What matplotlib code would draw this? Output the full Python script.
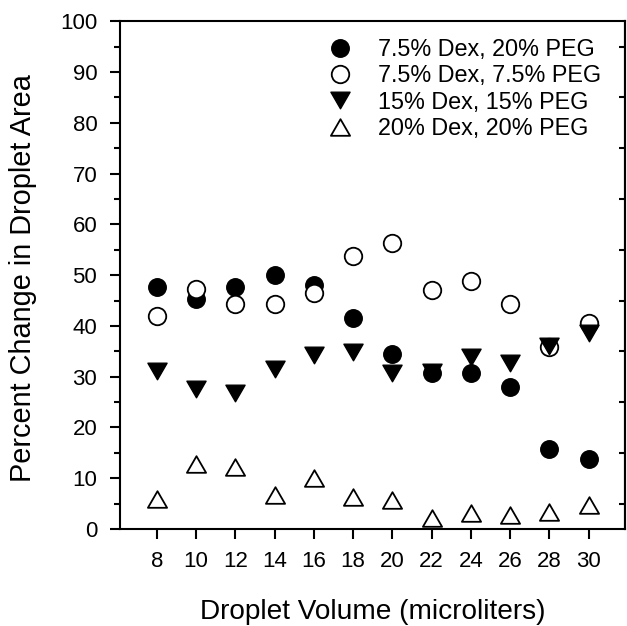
import matplotlib
matplotlib.use("Agg")
import matplotlib.pyplot as plt
import numpy as np
from matplotlib.path import Path

plt.rcParams['font.family'] = ['Liberation Sans', 'DejaVu Sans']

volumes = [8, 10, 12, 14, 16, 18, 20, 22, 24, 26, 28, 30]
dex75_peg20 = [47.7, 45.4, 47.7, 50.0, 48.1, 41.5, 34.4, 30.7, 30.7, 27.9, 15.7, 13.7]
dex75_peg75 = [42.0, 47.2, 44.3, 44.3, 46.4, 53.8, 56.3, 47.1, 48.8, 44.3, 35.8, 40.5]
dex15_peg15 = [31.2, 27.6, 26.8, 31.5, 34.2, 34.9, 30.8, 31.0, 33.8, 32.6, 36.0, 38.7]
dex20_peg20 = [6.0, 12.9, 12.2, 6.6, 10.0, 6.3, 5.7, 2.1, 3.2, 2.8, 3.4, 4.8]

labels = ["7.5% Dex, 20% PEG", "7.5% Dex, 7.5% PEG", "15% Dex, 15% PEG", "20% Dex, 20% PEG"]
yticks = [0, 10, 20, 30, 40, 50, 60, 70, 80, 90, 100]

tri_up = Path([(-1, -0.866), (1, -0.866), (0, 0.866), (-1, -0.866)],
              [Path.MOVETO, Path.LINETO, Path.LINETO, Path.CLOSEPOLY])
tri_down = Path([(-1, 0.866), (1, 0.866), (0, -0.866), (-1, 0.866)],
                [Path.MOVETO, Path.LINETO, Path.LINETO, Path.CLOSEPOLY])

fig = plt.figure(figsize=(6.27, 6.26), dpi=100)
ax = fig.add_axes([119.5/627, 1 - 529/626, (625 - 119.5)/627, (529 - 21.3)/626])

ax.plot(volumes, dex75_peg20, linestyle='none', marker='o', ms=12.6,
        mfc='black', mec='black', mew=1.0, label=labels[0], zorder=3)
ax.plot(volumes, dex75_peg75, linestyle='none', marker='o', ms=12.6,
        mfc='white', mec='black', mew=1.3, label=labels[1], zorder=4)
ax.plot(volumes, dex15_peg15, linestyle='none', marker=tri_down, ms=13.8,
        mfc='black', mec='black', mew=1.0, label=labels[2], zorder=5)
ax.plot(volumes, dex20_peg20, linestyle='none', marker=tri_up, ms=13.8,
        mfc='white', mec='black', mew=1.3, label=labels[3], zorder=6)

ax.set_xlim(6.1, 31.85)
ax.set_ylim(0, 100)
ax.set_xticks(volumes)
ax.set_xticklabels([str(v) for v in volumes])
ax.set_yticks(yticks)
ax.set_yticks(np.arange(5, 100, 10), minor=True)

for sp in ax.spines.values():
    sp.set_linewidth(1.5)

ax.tick_params(axis='x', which='major', direction='out', length=7, width=1.5,
               labelsize=16, pad=9, top=False)
ax.tick_params(axis='y', which='major', direction='out', length=7, width=1.5,
               labelsize=16, pad=9, right=False)
ax.tick_params(axis='y', which='minor', direction='out', length=4.5, width=1.5,
               right=False)

ax2 = ax.twinx()
ax2.set_ylim(0, 100)
ax2.set_yticks(np.arange(5, 100, 10))
ax2.tick_params(axis='y', direction='in', length=4.5, width=1.5, labelright=False)
ax2.spines['right'].set_linewidth(1.5)
for sp in ['left', 'top', 'bottom']:
    ax2.spines[sp].set_visible(False)

ax.set_xlabel("Droplet Volume (microliters)", fontsize=20.2)
ax.xaxis.label.set_va('baseline')
ax.xaxis.set_label_coords(0.5, (529 - 619) / 507.7)

ax.set_ylabel("Percent Change in Droplet Area", fontsize=20.8)
ax.yaxis.label.set_va('center')
ax.yaxis.set_label_coords((23 - 119.5) / 505.5, (529 - 278.5) / 507.7)

leg = ax.legend(loc='upper left', bbox_to_anchor=(0.4134, 0.967), frameon=False,
                fontsize=16.8, handlelength=1.0, handletextpad=1.12,
                labelspacing=0.14, borderpad=0, borderaxespad=0)
leg.set_zorder(10)

fig.savefig("out.png", dpi=100)
